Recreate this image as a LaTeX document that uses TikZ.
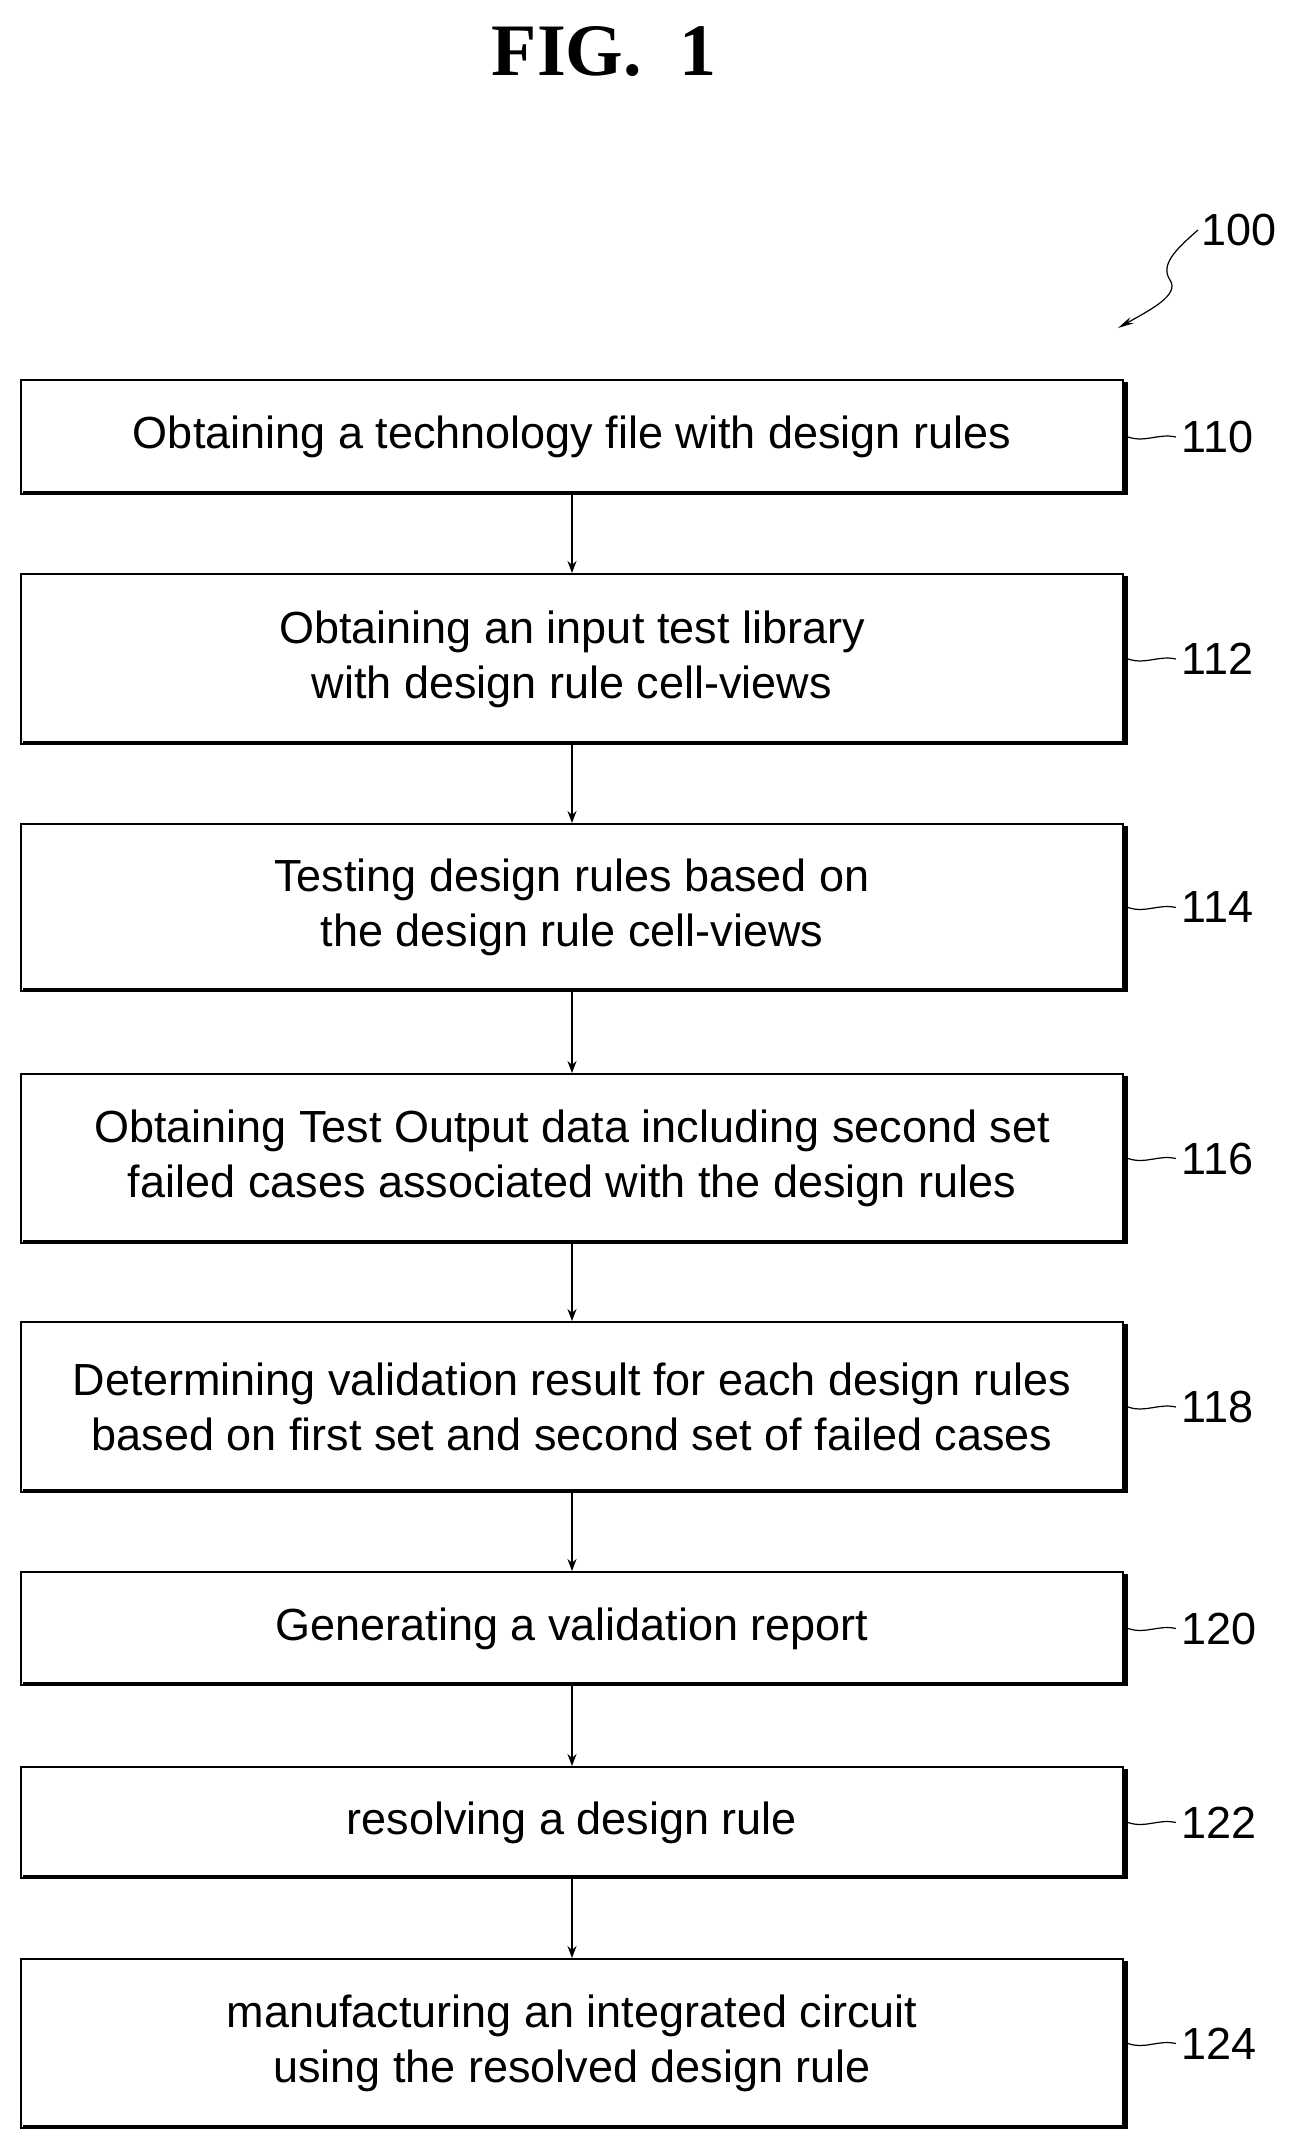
\documentclass[tikz,border=0pt]{standalone}
\usepackage{fontspec}
\setmainfont{Liberation Sans}
\newfontfamily\figserif{Liberation Serif}
\usetikzlibrary{arrows.meta}
\begin{document}
\begin{tikzpicture}[x=1pt,y=-1pt,
  stepbox/.style={draw,line width=2pt,minimum width=1102pt,inner sep=0pt,align=center,
    font=\fontsize{45}{55}\selectfont},
  flow/.style={-{Stealth[length=12pt,width=9pt]},line width=1.5pt},
  lab/.style={font=\fontsize{45}{50}\selectfont,anchor=west},
  lead/.style={line width=1.2pt}]
\useasboundingbox (0,0) rectangle (1291,2137);
\node[font=\figserif\bfseries\fontsize{74}{78}\selectfont] (title) at (604,52) {FIG.\ \ 1};
\def\bx#1#2#3#4#5{%
  \node[stepbox,minimum height=#3-#2] (#1) at (572,{(#2+#3)/2}) {#4};
  \draw[line width=4pt] ([xshift=3pt,yshift=2pt]#1.south west) -- ([xshift=2pt,yshift=2pt]#1.south east) -- ([xshift=2pt,yshift=-3pt]#1.north east);
  \coordinate (l#1) at ([xshift=52pt]#1.east);
  \draw[lead] ([xshift=4pt]#1.east) .. controls ([xshift=22pt,yshift=-6pt]#1.east) and ([xshift=34pt,yshift=4pt]#1.east) .. (l#1);
  \node[lab] (n#1) at ([xshift=2pt]l#1) {#5};}
\bx{b1}{380}{494}{Obtaining a technology file with design rules}{110}
\bx{b2}{574}{744}{Obtaining an input test library\\with design rule cell-views}{112}
\bx{b3}{824}{991}{Testing design rules based on\\the design rule cell-views}{114}
\bx{b4}{1074}{1243}{Obtaining Test Output data including second set\\failed cases associated with the design rules}{116}
\bx{b5}{1322}{1492}{Determining validation result for each design rules\\based on first set and second set of failed cases}{118}
\bx{b6}{1572}{1685}{Generating a validation report}{120}
\bx{b7}{1767}{1878}{resolving a design rule}{122}
\bx{b8}{1959}{2128}{manufacturing an integrated circuit\\using the resolved design rule}{124}
\foreach \a/\b in {b1/b2,b2/b3,b3/b4,b4/b5,b5/b6,b6/b7,b7/b8}
  \draw[flow] (\a.south) -- (\b.north);
\node[lab] (n100) at (1198,230) {100};
\coordinate (tip) at (1118,328);
\draw[line width=1.2pt,-{Stealth[length=16pt,width=7pt]}] (n100.west) .. controls (1175,250) and (1160,265) .. (1170,280) .. controls (1180,295) and (1150,310) .. (tip);
\end{tikzpicture}
\end{document}
